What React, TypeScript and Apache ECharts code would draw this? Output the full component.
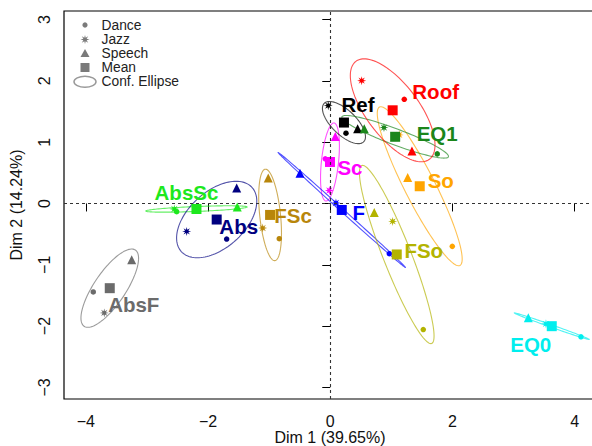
import React, { useEffect, useRef } from "react";
import * as echarts from "echarts";

const groups = ["AbsF", "AbsSc", "Abs", "FSc", "Sc", "F", "FSo", "So", "Ref", "EQ1", "Roof", "EQ0"];
const groupColors = ["#6b6b6b", "#1de81d", "#000080", "#b8860b", "#ff00ff", "#0000ff", "#b3b300", "#ffa500", "#000000", "#1b861b", "#ff0000", "#00eeee"];

const danceX = [-3.879, -2.514, -1.696, -0.835, -0.082, 0.966, 1.522, 1.997, 0.257, 1.751, 1.211, 4.103];
const danceY = [-1.443, -0.135, -0.58, -0.575, 0.728, -0.819, -2.057, -0.7, 1.147, 0.809, 1.7, -2.176];
const jazzX = [-3.699, -2.553, -2.35, -1.106, -0.016, 0.093, 1.021, 1.129, -0.033, 0.879, 0.514, 3.53];
const jazzY = [-1.785, -0.091, -0.456, -0.401, 0.212, 0.007, -0.293, 1.119, 1.596, 1.238, 2.003, -1.964];
const speechX = [-3.25, -1.522, -1.532, -1.015, 0.082, -0.496, 0.72, 1.267, 0.448, 0.556, 1.337, 3.241];
const speechY = [-0.917, -0.059, 0.251, 0.414, 1.091, 0.495, -0.147, 0.423, 1.217, 1.217, 0.858, -1.866];
const meanX = [-3.609, -2.19, -1.859, -0.985, -0.005, 0.188, 1.088, 1.464, 0.224, 1.062, 1.021, 3.625];
const meanY = [-1.382, -0.09, -0.262, -0.187, 0.677, -0.106, -0.832, 0.281, 1.32, 1.088, 1.52, -2.002];

// confidence ellipse: semi-axes and orientation (degrees)
const ellipseA = [0.75, 0.83, 0.78, 0.75, 0.64, 1.4, 1.56, 1.45, 0.45, 0.93, 1.0, 0.65];
const ellipseB = [0.26, 0.04, 0.46, 0.17, 0.14, 0.025, 0.23, 0.25, 0.2, 0.13, 0.43, 0.02];
const ellipseAngle = [56, 2.3, 42, 96, 84, -42, -68.5, -63, -44, -20.5, -53, -19.4];

// label offsets in pixels from the mean point
const labelOffsets = [[24, 16], [-10, -16], [22, 7], [23, 1], [20, 6], [17, 3], [27, -4], [21, -6], [14, -18], [42, -3], [43, -19], [-21, 18]];

const xTicks = [-4, -2, 0, 2, 4];
const yTicks = [-3, -2, -1, 0, 1, 2, 3];
const legendItems = ["Dance", "Jazz", "Speech", "Mean", "Conf. Ellipse"];

const FONT = "'Liberation Sans', Arial, Helvetica, sans-serif";

function starPoints(cx: number, cy: number, r: number) {
  const pts: number[][] = [];
  for (let k = 0; k < 16; k++) {
    const ang = (k * Math.PI) / 8 - Math.PI / 2;
    const rr = k % 2 === 0 ? r : r * 0.4;
    pts.push([cx + rr * Math.cos(ang), cy + rr * Math.sin(ang)]);
  }
  return pts;
}
const starPath =
  "path://" +
  starPoints(10, 10, 10)
    .map((p, i) => (i === 0 ? "M" : "L") + p[0].toFixed(2) + " " + p[1].toFixed(2))
    .join(" ") +
  " Z";

const minus = (v: number) => String(v).replace("-", "\u2212");

export default function App() {
  const ref = useRef<HTMLDivElement>(null);
  useEffect(() => {
    document.body.style.margin = "0";
    const chart = echarts.init(ref.current!, null, { renderer: "svg" });

    const pointSeries = (name: string, xs: number[], ys: number[], symbol: string, size: number) => ({
      name,
      type: "scatter",
      symbol,
      symbolSize: size,
      z: 3,
      itemStyle: { opacity: 1 },
      data: groups.map((g, i) => ({ value: [xs[i], ys[i]], itemStyle: { color: groupColors[i], opacity: 1 } })),
    });

    const legendY = [25, 39.5, 53.5, 67.5, 81.7];
    const legendColor = "#7a7a7a";
    const graphics: any[] = [
      { type: "circle", shape: { cx: 85, cy: legendY[0], r: 2.6 }, style: { fill: legendColor } },
      { type: "polygon", shape: { points: starPoints(85, legendY[1], 4.5) }, style: { fill: legendColor } },
      { type: "polygon", shape: { points: [[85, legendY[2] - 4.5], [89.5, legendY[2] + 3.5], [80.5, legendY[2] + 3.5]] }, style: { fill: legendColor } },
      { type: "rect", shape: { x: 80.5, y: legendY[3] - 4.5, width: 9, height: 9 }, style: { fill: legendColor } },
      { type: "ellipse", shape: { cx: 85, cy: legendY[4], rx: 11, ry: 5.5 }, style: { fill: "none", stroke: "#999", lineWidth: 1.5 } },
      ...legendItems.map((t, i) => ({
        type: "text",
        x: 101.5,
        y: legendY[i],
        style: {
          text: t,
          fontSize: 13.8,
          fontFamily: FONT,
          lineHeight: 13,
          fill: "#222",
          verticalAlign: "middle",
        },
      })),
    ];

    chart.setOption({
      animation: false,
      textStyle: { fontFamily: FONT },
      grid: {
        left: 64,
        top: 11,
        right: -4,
        bottom: 47,
        containLabel: false,
        outerBoundsMode: "none",
        show: true,
        borderColor: "#000",
        borderWidth: 1.2,
        backgroundColor: "transparent",
      },
      xAxis: {
        type: "value",
        min: -4.358,
        max: 4.349,
        name: "Dim 1 (39.65%)",
        nameLocation: "middle",
        nameGap: 30,
        nameMoveOverlap: false,
        nameTextStyle: { fontSize: 16, lineHeight: 16, color: "#111", fontFamily: FONT },
        axisLine: { show: false },
        splitLine: { show: false },
        axisTick: { show: true, inside: false, length: 8, customValues: xTicks, lineStyle: { color: "#000" } },
        axisLabel: { customValues: xTicks, fontSize: 16, lineHeight: 16, color: "#111", margin: 14, formatter: (v: number) => minus(v) },
      },
      yAxis: {
        type: "value",
        min: -3.19,
        max: 3.14,
        name: "Dim 2 (14.24%)",
        nameLocation: "middle",
        nameRotate: 90,
        nameGap: 40,
        nameMoveOverlap: false,
        nameTextStyle: { fontSize: 16, color: "#111", fontFamily: FONT },
        axisLine: { show: false },
        splitLine: { show: false },
        axisTick: { show: true, inside: false, length: 8, customValues: yTicks, lineStyle: { color: "#000" } },
        axisLabel: { customValues: yTicks, fontSize: 16, color: "#111", margin: 12, rotate: 90, formatter: (v: number) => minus(v) },
      },
      graphic: graphics,
      series: [
        {
          name: "ellipses",
          type: "custom",
          z: 2,
          clip: true,
          data: groups.map((g, i) => [meanX[i], meanY[i], i]),
          renderItem: (params: any, api: any) => {
            const i = params.dataIndex;
            const t = (ellipseAngle[i] * Math.PI) / 180;
            const pts: number[][] = [];
            for (let k = 0; k <= 120; k++) {
              const u = (k / 120) * 2 * Math.PI;
              const x = meanX[i] + ellipseA[i] * Math.cos(u) * Math.cos(t) - ellipseB[i] * Math.sin(u) * Math.sin(t);
              const y = meanY[i] + ellipseA[i] * Math.cos(u) * Math.sin(t) + ellipseB[i] * Math.sin(u) * Math.cos(t);
              pts.push(api.coord([x, y]));
            }
            return {
              type: "polygon",
              shape: { points: pts },
              style: { fill: "none", stroke: groupColors[i], lineWidth: 1.1, opacity: 0.68 },
            };
          },
          markLine: {
            silent: true,
            symbol: "none",
            label: { show: false },
            lineStyle: { type: [3, 3], color: "#333", width: 1.1 },
            data: [{ xAxis: 0 }, { yAxis: 0 }],
          },
        },
        pointSeries("Dance", danceX, danceY, "circle", 5.5),
        pointSeries("Jazz", jazzX, jazzY, starPath, 9),
        pointSeries("Speech", speechX, speechY, "triangle", 9),
        {
          name: "Mean",
          type: "scatter",
          symbol: "rect",
          symbolSize: 10,
          z: 4,
          itemStyle: { opacity: 1 },
          data: groups.map((g, i) => ({
            value: [meanX[i], meanY[i]],
            itemStyle: { color: groupColors[i], opacity: 1 },
            label: {
              show: true,
              formatter: g,
              position: "inside",
              offset: labelOffsets[i],
              color: groupColors[i],
              fontSize: 20.5,
              fontWeight: "bold",
              fontFamily: FONT,
            },
          })),
        },
      ],
    });
    return () => chart.dispose();
  }, []);
  return <div ref={ref} style={{ width: 592, height: 446 }} />;
}
